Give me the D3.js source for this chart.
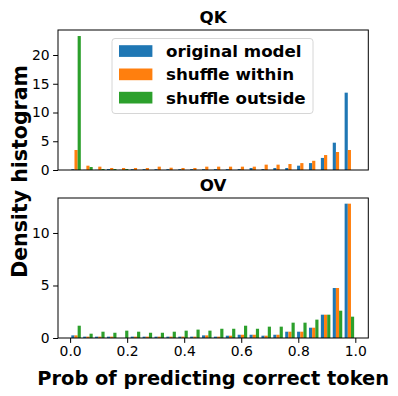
<!DOCTYPE html>
<html><head><meta charset="utf-8">
<script src="https://cdn.jsdelivr.net/npm/d3@7"></script>
<style>body{margin:0;background:#fff}svg{display:block}text{font-family:"DejaVu Sans",sans-serif}</style>
</head><body>
<script>
const seriesNames = ["original model", "shuffle within", "shuffle outside"];
const colors = ["#1f77b4", "#ff7f0e", "#2ca02c"];
const nBins = 24;
// QK densities per bin (24 bins over [0,1])
const qkOriginal = [0.15,0.03,0.03,0.17,0.03,0.15,0.15,0.15,0.15,0.15,0.15,0.15,0.15,0.15,0.17,0.35,0.17,0.35,0.35,0.75,1.2,2.1,4.75,13.45];
const qkWithin   = [3.48,0.75,0.58,0.35,0.35,0.35,0.35,0.58,0.4,0.35,0.35,0.58,0.58,0.58,0.58,0.58,0.93,0.93,1.04,1.2,1.6,2.6,3.13,3.48];
const qkOutside  = [23.3,0.52,0.17,0.17,0.17,0,0,0,0,0,0,0,0,0,0,0,0,0,0,0,0,0,0,0];
// OV densities per bin
const ovOriginal = [0.25,0.13,0.13,0.13,0,0.13,0.13,0.13,0.13,0.13,0.13,0.25,0.13,0.22,0.31,0.31,0.22,0.31,0.6,0.6,0.98,2.22,4.76,12.79];
const ovWithin   = [0.25,0.13,0.13,0.13,0,0.13,0.13,0.13,0.13,0.13,0.13,0.25,0.13,0.22,0.31,0.31,0.22,0.31,0.6,0.6,0.98,2.22,4.76,12.79];
const ovOutside  = [1.17,0.41,0.6,0.5,0.7,0.6,0.5,0.5,0.6,0.7,0.8,0.7,0.88,0.88,1.17,0.88,1.08,1.08,1.46,1.46,1.75,2.22,2.6,2.03];
const xTicks = [0.0,0.2,0.4,0.6,0.8,1.0];
const qkYTicks = [0,5,10,15,20];
const ovYTicks = [0,5,10];
const panels = [
  {title:"QK", series:[qkOriginal,qkWithin,qkOutside], yMax:24.35, yTicks:qkYTicks, top:30, bottom:170, xAxis:false, legend:true},
  {title:"OV", series:[ovOriginal,ovWithin,ovOutside], yMax:13.33, yTicks:ovYTicks, top:198, bottom:338, xAxis:true, legend:false}
];

const W=398,H=396, L=58, R=368.3;
const svg=d3.select("body").append("svg").attr("width",W).attr("height",H);
const x=d3.scaleLinear().domain([-0.0425,1.0455]).range([L,R]);
const binW=1/nBins;

panels.forEach(p=>{
  const y=d3.scaleLinear().domain([0,p.yMax]).range([p.bottom,p.top]);
  const g=svg.append("g");
  const barW=0.8*binW/3;
  p.series.forEach((vals,si)=>{
    g.selectAll(null).data(vals).enter().append("rect")
      .attr("x",(d,i)=>x(i*binW+0.1*binW+si*barW))
      .attr("width",(d,i)=>x(barW)-x(0))
      .attr("y",d=>y(d))
      .attr("height",d=>y(0)-y(d))
      .attr("fill",colors[si]);
  });
  g.append("rect").attr("x",L).attr("y",p.top).attr("width",R-L).attr("height",p.bottom-p.top)
    .attr("fill","none").attr("stroke","#000").attr("stroke-width",1);
  const ya=d3.axisLeft(y).tickValues(p.yTicks).tickFormat(d3.format("d")).tickSize(4.9).tickPadding(3.5);
  const yg=svg.append("g").attr("transform",`translate(${L},0)`).call(ya);
  yg.select(".domain").remove();
  if(p.xAxis){
    const xa=d3.axisBottom(x).tickValues(xTicks).tickFormat(d3.format(".1f")).tickSize(4.9).tickPadding(3.5);
    const xg=svg.append("g").attr("transform",`translate(0,${p.bottom})`).call(xa);
    xg.select(".domain").remove();
  }
  svg.append("text").attr("x",(L+R)/2).attr("y",p.top-7).attr("text-anchor","middle")
    .attr("font-weight","bold").attr("font-size",16.7).text(p.title);
  if(p.legend){
    const lg=svg.append("g");
    lg.append("rect").attr("x",112).attr("y",38.5).attr("width",201).attr("height",75).attr("rx",3)
      .attr("fill","#fff").attr("fill-opacity",0.8).attr("stroke","#d6d6d6");
    seriesNames.forEach((n,i)=>{
      const cy=51+i*23.3;
      lg.append("rect").attr("x",119).attr("y",cy-5.8).attr("width",33.4).attr("height",11.7).attr("fill",colors[i]);
      lg.append("text").attr("x",166).attr("y",cy+6).attr("font-weight","bold").attr("font-size",16.7).text(n);
    });
  }
});
svg.selectAll(".tick text").attr("font-size",13.9).attr("fill","#000").attr("font-family","DejaVu Sans");
svg.selectAll(".tick line").attr("stroke","#000");
svg.append("text").attr("x",(L+R)/2).attr("y",385).attr("text-anchor","middle")
  .attr("font-weight","bold").attr("font-size",19.4).text("Prob of predicting correct token");
svg.append("text").attr("transform","translate(27,171.5) rotate(-90)").attr("text-anchor","middle")
  .attr("font-weight","bold").attr("font-size",20.5).text("Density histogram");
</script>
</body></html>
